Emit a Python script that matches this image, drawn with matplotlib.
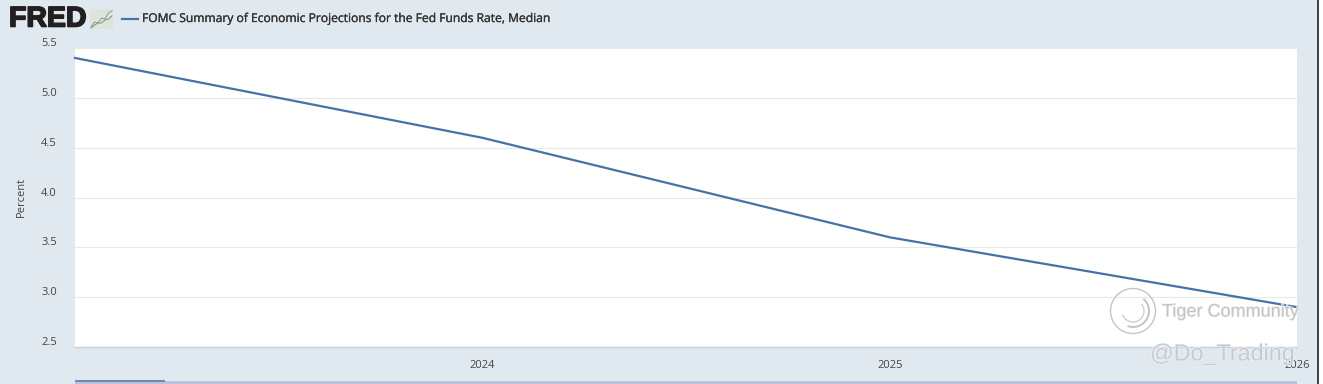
import datetime as dt
import matplotlib
matplotlib.use("Agg")
import matplotlib.pyplot as plt
import matplotlib.dates as mdates
import matplotlib.patheffects as pe
from matplotlib.patches import Circle, Arc, Rectangle
from matplotlib.transforms import ScaledTranslation

# dati
dates = [dt.date(2023, 1, 1), dt.date(2024, 1, 1), dt.date(2025, 1, 1), dt.date(2026, 1, 1)]
fed_funds = [5.4, 4.6, 3.6, 2.9]
y_ticks = [2.5, 3.0, 3.5, 4.0, 4.5, 5.0, 5.5]
x_ticks = [dt.date(2024, 1, 1), dt.date(2025, 1, 1), dt.date(2026, 1, 1)]
series_name = "FOMC Summary of Economic Projections for the Fed Funds Rate, Median"
icon_a = [0.1, 0.35, 0.3, 0.55, 0.5, 0.8, 0.9]
icon_b = [0.05, 0.2, 0.3, 0.3, 0.45, 0.5, 0.65]

W, H = 1323, 384
BG = "#e1e9f0"
LINE = "#4572a7"
TXT = "#444444"

plt.rcParams["font.family"] = ["Open Sans", "DejaVu Sans"]


def box(x0, y0, x1, y1):
    # pixel dall'alto -> coordinate figura
    return [x0 / W, 1 - y1 / H, (x1 - x0) / W, (y1 - y0) / H]


def fx(x):
    return x / W


def fy(y):
    return 1 - y / H


fig = plt.figure(figsize=(W / 100, H / 100), dpi=100, facecolor=BG)

ax = fig.add_axes(box(75, 48, 1297, 347))
ax.plot(dates, fed_funds, color=LINE, lw=1.6, clip_on=False, zorder=3)
ax.set_xlim(dates[0], dates[-1])
ax.set_ylim(2.5, 5.5)
ax.set_yticks(y_ticks)
ax.set_xticks(x_ticks)
ax.xaxis.set_major_formatter(mdates.DateFormatter("%Y"))
ax.set_yticklabels([f"{v:.1f}" for v in y_ticks], va="bottom")
ax.grid(axis="y", color="#e6e8ea", lw=0.8)
ax.set_axisbelow(True)
ax.tick_params(axis="y", length=0, pad=13, labelsize=8, labelcolor=TXT)
ax.tick_params(axis="x", length=0, pad=9, labelsize=8, labelcolor=TXT)
for lab in ax.get_yticklabels():
    lab.set_transform(lab.get_transform() + ScaledTranslation(0, -1 / 100, fig.dpi_scale_trans))
for name in ["top", "left", "right"]:
    ax.spines[name].set_visible(False)
ax.spines["bottom"].set_color("#c8d2dc")
ax.spines["bottom"].set_linewidth(1)
fig.text(fx(21), fy(197), "Percent", rotation=90, ha="center", va="center", fontsize=8, color=TXT)

# logo e legenda
fig.text(fx(9), fy(19.5), "FRED", fontsize=20.5, fontweight="bold", color="#231f20", ha="left",
         va="center", family=["Liberation Sans", "DejaVu Sans"],
         path_effects=[pe.withStroke(linewidth=1.2, foreground="#231f20")])
icon = fig.add_axes(box(90, 9, 113, 29))
icon.add_patch(Rectangle((0, 0), 1, 1, transform=icon.transAxes, color="#dde4dc", lw=0))
icon.plot(icon_a, color="#8ba080", lw=0.7)
icon.plot(icon_b, color="#8a8a8a", lw=0.7)
icon.set_ylim(0, 1)
icon.axis("off")
fig.add_artist(plt.Line2D([fx(122), fx(138)], [fy(18.5), fy(18.5)], color=LINE, lw=1.6))
fig.text(fx(142), fy(18.5), series_name, fontsize=8.7, color="#333333", ha="left", va="center",
         path_effects=[pe.withStroke(linewidth=0.2, foreground="#333333")])

# navigator in basso e bordo destro
fig.add_artist(Rectangle((fx(75), 0), (1297 - 75) / W, 3.5 / H, transform=fig.transFigure,
                         color="#b9c4dc", lw=0))
fig.add_artist(Rectangle((fx(75), 2.5 / H), 90 / W, 1.2 / H, transform=fig.transFigure,
                         color="#6f8bb0", lw=0))
fig.add_artist(Rectangle((fx(1317), 0), 2 / W, 1, transform=fig.transFigure, color="#444444", lw=0))
fig.add_artist(Rectangle((fx(1319), 0), 4 / W, 1, transform=fig.transFigure, color="white", lw=0))

# filigrane
emboss = [pe.withStroke(linewidth=1.0, foreground="#f2f2f2")]
fig.text(fx(1162), fy(312), "Tiger Community", fontsize=13, color="#c4c4c4", ha="left", va="center",
         family=["Liberation Sans", "DejaVu Sans"], path_effects=emboss)
fig.text(fx(1150), fy(354), "@Do_Trading", fontsize=16.8, color="#c6cbcf", ha="left", va="center",
         family=["Liberation Sans", "DejaVu Sans"], path_effects=emboss)
wm = fig.add_axes(box(1108, 287, 1158, 335))
wm.axis("off")
wm.set_xlim(0, 50)
wm.set_ylim(0, 48)
wm.add_patch(Circle((25, 24), 22.5, fill=False, ec="#c4c4c4", lw=1))
wm.add_patch(Arc((25, 24), 32, 32, theta1=250, theta2=50, ec="#c4c4c4", lw=1.4))
wm.add_patch(Arc((25, 24), 22, 22, theta1=200, theta2=40, ec="#d0d0d0", lw=1))

fig.savefig("out.png", dpi=100, facecolor=BG)
